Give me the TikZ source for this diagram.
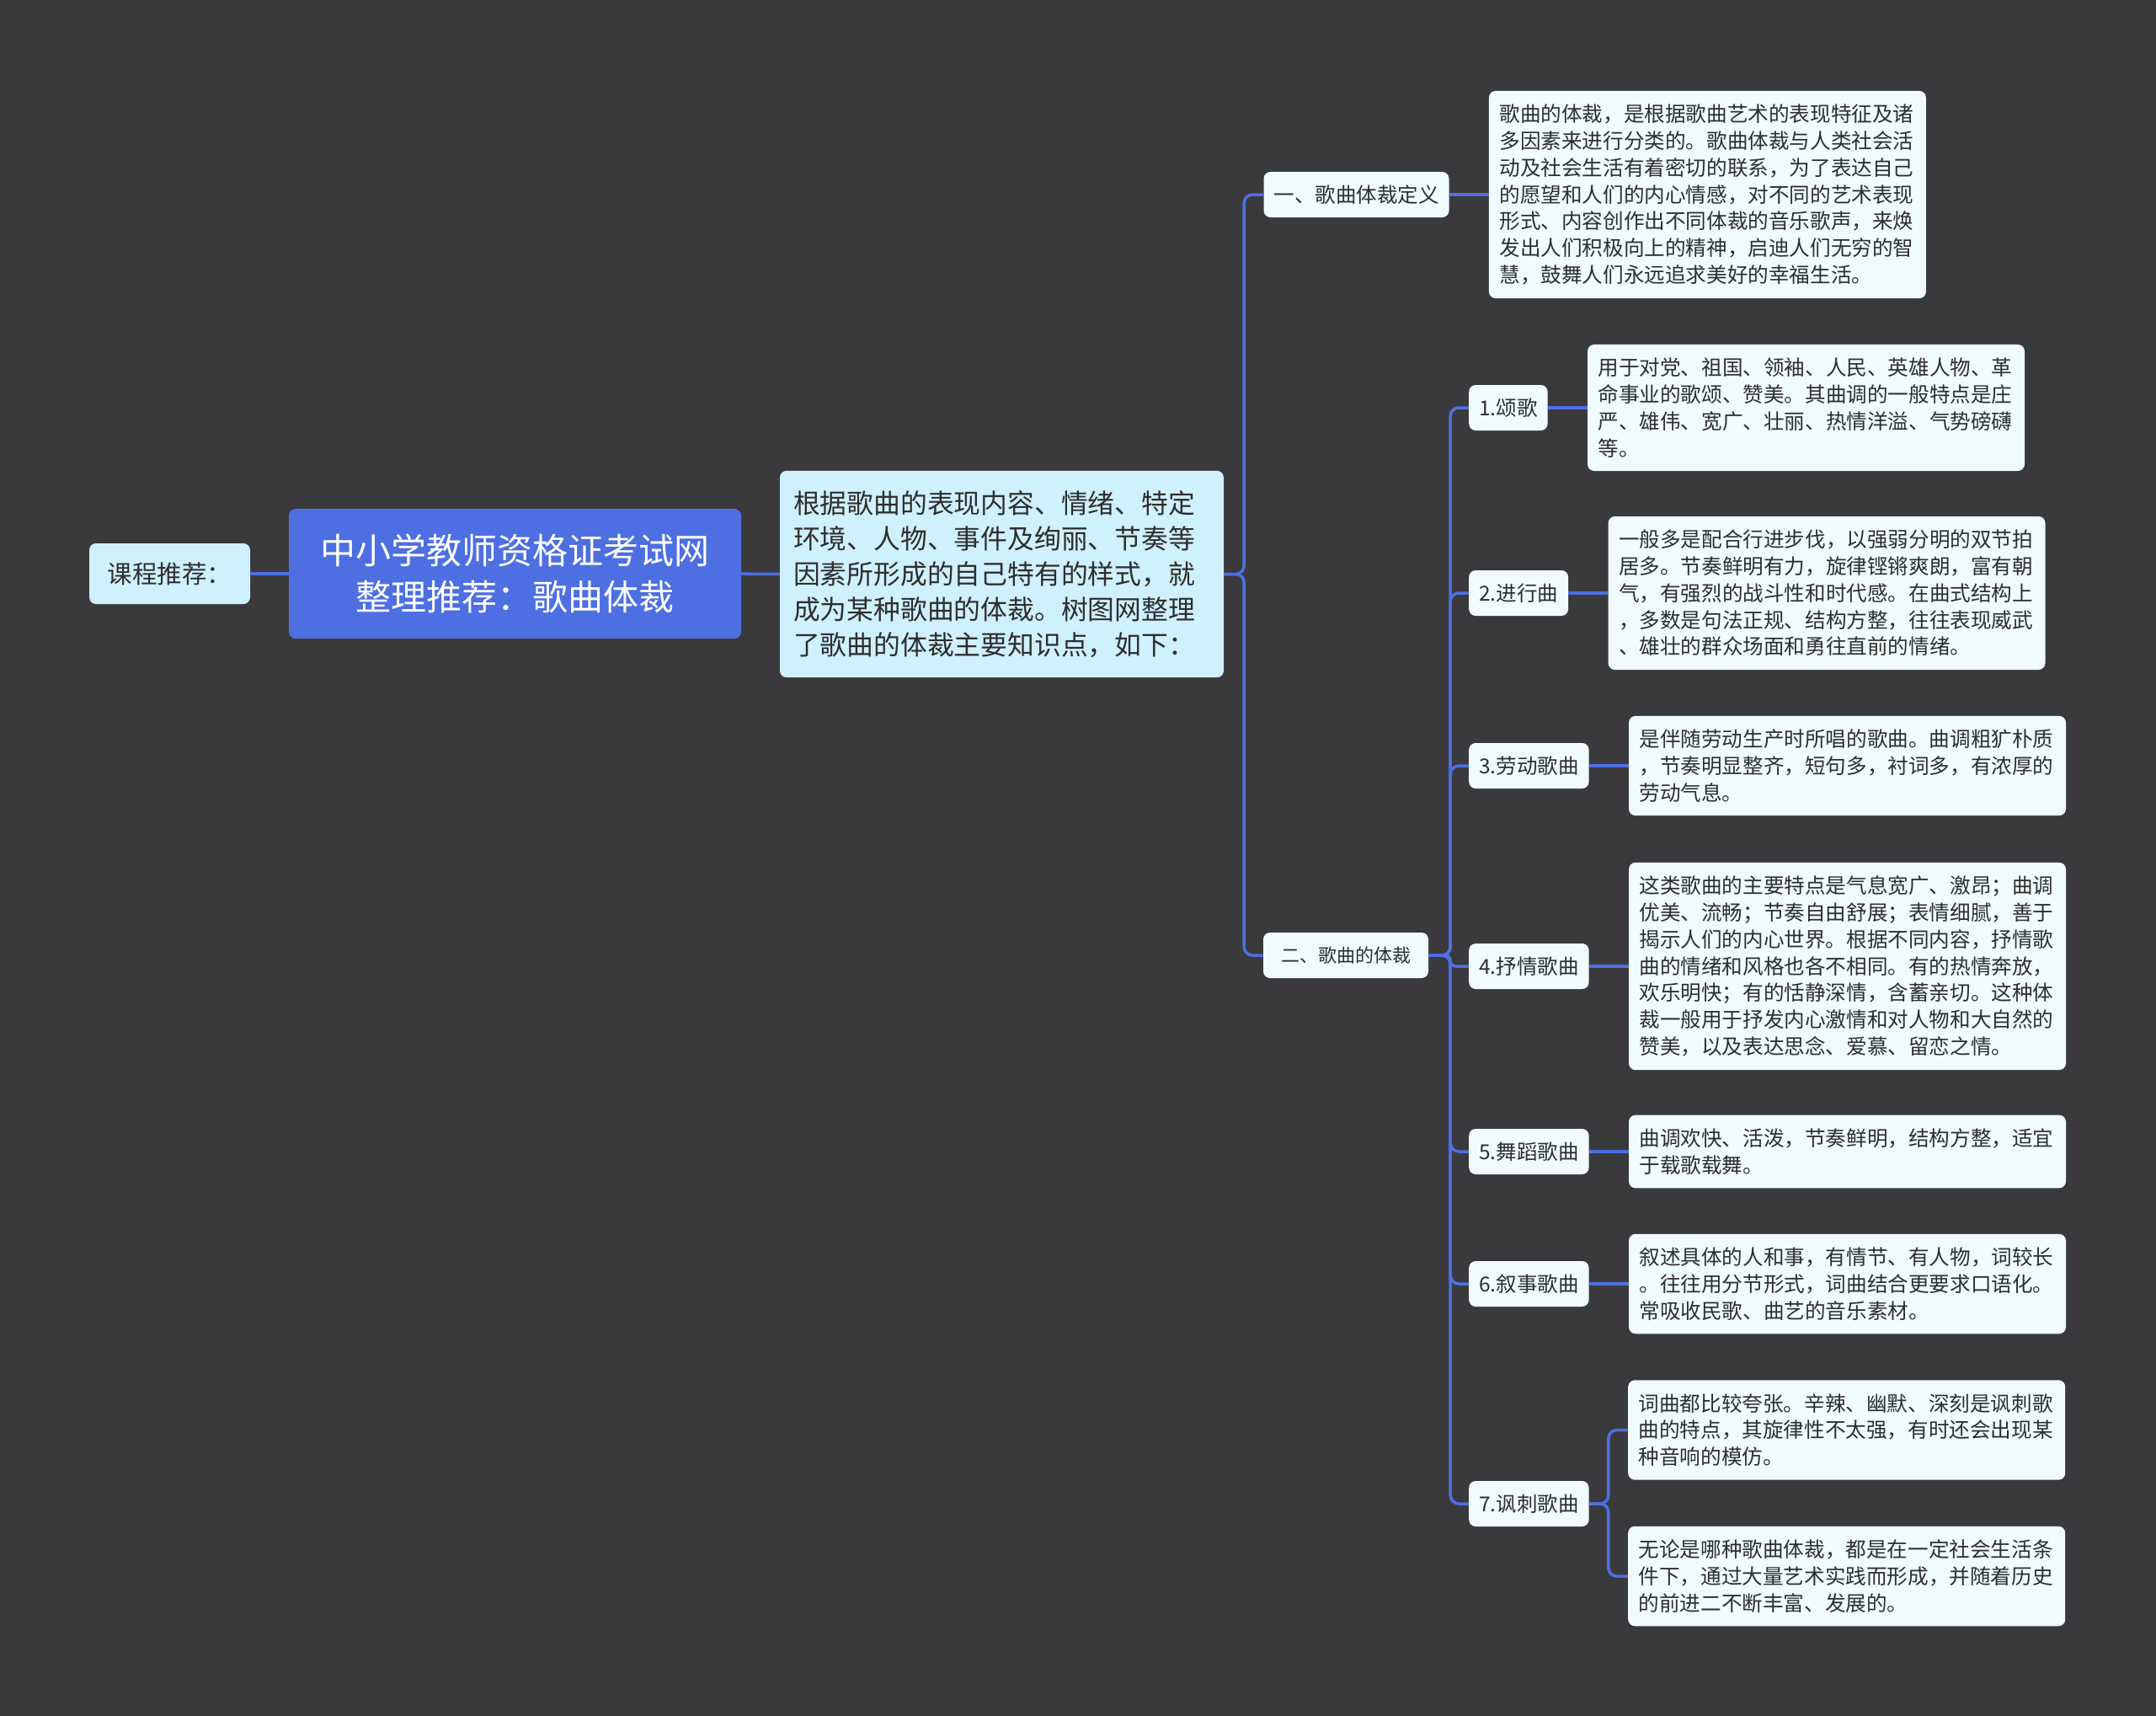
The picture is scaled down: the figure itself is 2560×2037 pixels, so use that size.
\documentclass[tikz,border=0pt]{standalone}
\usepackage{fontspec}
\setmainfont{Noto Sans CJK SC}
\usetikzlibrary{positioning}
\definecolor{Beijing}{HTML}{3A393C}
\definecolor{Lanse}{HTML}{4D6FE2}
\definecolor{Qianlan}{HTML}{CFF0FD}
\definecolor{Baise}{HTML}{F0FBFE}
\definecolor{Wenzi}{HTML}{2E2E2E}
\tikzset{
  kuang/.style   = {rectangle, rounded corners=8pt, text=Wenzi, align=left},
  genkuang/.style= {kuang, fill=Lanse, text=white, align=center,
                    font=\fontsize{42}{55.5}\selectfont,
                    minimum width=537pt, minimum height=154pt},
  qianlan/.style = {kuang, fill=Qianlan},
  xiang/.style   = {kuang, fill=Baise, font=\fontsize{24.5}{31.8}\selectfont,
                    inner xsep=12pt, minimum height=54pt},
  ye/.style      = {kuang, fill=Baise, font=\fontsize{24.6}{31.8}\selectfont,
                    text width=494pt, inner xsep=12.5pt, inner ysep=16pt},
  lian/.style    = {draw=Lanse, line width=3.5pt, rounded corners=10pt},
}

\begin{document}
\begin{tikzpicture}[x=1pt, y=-1pt]
  \fill[Beijing] (0,0) rectangle (2560,2037);
  % --- lijevo: tuijian, gen, shuoming ---
  \node[qianlan, font=\fontsize{29.5}{36}\selectfont, minimum width=191pt,
        minimum height=72pt, align=center] at (201.5,681) (tuijian) {课程推荐：};
  \node[genkuang] at (611.5,681) (gen) {中小学教师资格证考试网\\整理推荐：歌曲体裁};
  \node[qianlan, text width=495pt, inner xsep=16pt, inner ysep=23.5pt,
        font=\fontsize{31.8}{42}\selectfont] at (1189.5,681.5) (shuoming)
        {根据歌曲的表现内容、情绪、特定\\
         环境、人物、事件及绚丽、节奏等\\
         因素所形成的自己特有的样式，就\\
         成为某种歌曲的体裁。树图网整理\\
         了歌曲的体裁主要知识点，如下：};

  \draw[lian] (tuijian) -- (gen);
  \draw[lian] (gen) -- (shuoming);

  % --- yi: dingyi ---
  \node[xiang] at (1610.5,231) (dingyi) {一、歌曲体裁定义};
  \node[ye, right=47pt of dingyi] (dingyiye)
        {歌曲的体裁，是根据歌曲艺术的表现特征及诸\\
         多因素来进行分类的。歌曲体裁与人类社会活\\
         动及社会生活有着密切的联系，为了表达自己\\
         的愿望和人们的内心情感，对不同的艺术表现\\
         形式、内容创作出不同体裁的音乐歌声，来焕\\
         发出人们积极向上的精神，启迪人们无穷的智\\
         慧，鼓舞人们永远追求美好的幸福生活。};

  % --- er: ticai ---
  \node[xiang, font=\fontsize{22}{28}\selectfont, minimum width=196pt]
        at (1598,1134) (tici) {二、歌曲的体裁};

  \draw[lian] (shuoming.east) -- ++(24,0) |- (dingyi.west);
  \draw[lian] (shuoming.east) -- ++(24,0) |- (tici.west);
  \draw[lian] (dingyi) -- (dingyiye);

  \node[xiang, anchor=west] at (1744,484)  (s1) {1.颂歌};
  \node[xiang, anchor=west] at (1744,704)  (s2) {2.进行曲};
  \node[xiang, anchor=west] at (1744,909)  (s3) {3.劳动歌曲};
  \node[xiang, anchor=west] at (1744,1147) (s4) {4.抒情歌曲};
  \node[xiang, anchor=west] at (1744,1367) (s5) {5.舞蹈歌曲};
  \node[xiang, anchor=west] at (1744,1524) (s6) {6.叙事歌曲};
  \node[xiang, anchor=west] at (1744,1785) (s7) {7.讽刺歌曲};

  \node[ye, right=47pt of s1] (t1)
        {用于对党、祖国、领袖、人民、英雄人物、革\\
         命事业的歌颂、赞美。其曲调的一般特点是庄\\
         严、雄伟、宽广、壮丽、热情洋溢、气势磅礴\\
         等。};
  \node[ye, right=47pt of s2] (t2)
        {一般多是配合行进步伐，以强弱分明的双节拍\\
         居多。节奏鲜明有力，旋律铿锵爽朗，富有朝\\
         气，有强烈的战斗性和时代感。在曲式结构上\\
         ，多数是句法正规、结构方整，往往表现威武\\
         、雄壮的群众场面和勇往直前的情绪。};
  \node[ye, right=47pt of s3] (t3)
        {是伴随劳动生产时所唱的歌曲。曲调粗犷朴质\\
         ，节奏明显整齐，短句多，衬词多，有浓厚的\\
         劳动气息。};
  \node[ye, right=47pt of s4] (t4)
        {这类歌曲的主要特点是气息宽广、激昂；曲调\\
         优美、流畅；节奏自由舒展；表情细腻，善于\\
         揭示人们的内心世界。根据不同内容，抒情歌\\
         曲的情绪和风格也各不相同。有的热情奔放，\\
         欢乐明快；有的恬静深情，含蓄亲切。这种体\\
         裁一般用于抒发内心激情和对人物和大自然的\\
         赞美，以及表达思念、爱慕、留恋之情。};
  \node[ye, right=47pt of s5] (t5)
        {曲调欢快、活泼，节奏鲜明，结构方整，适宜\\
         于载歌载舞。};
  \node[ye, right=47pt of s6] (t6)
        {叙述具体的人和事，有情节、有人物，词较长\\
         。往往用分节形式，词曲结合更要求口语化。\\
         常吸收民歌、曲艺的音乐素材。};
  \node[ye, anchor=west] at (1933,1697.5) (t7a)
        {词曲都比较夸张。辛辣、幽默、深刻是讽刺歌\\
         曲的特点，其旋律性不太强，有时还会出现某\\
         种音响的模仿。};
  \node[ye, anchor=west] at (1933,1871) (t7b)
        {无论是哪种歌曲体裁，都是在一定社会生活条\\
         件下，通过大量艺术实践而形成，并随着历史\\
         的前进二不断丰富、发展的。};

  \draw[lian] (tici.east) -- ++(26,0) |- (s1.west);
  \draw[lian] (tici.east) -- ++(26,0) |- (s2.west);
  \draw[lian] (tici.east) -- ++(26,0) |- (s3.west);
  \draw[lian, rounded corners=6pt] (tici.east) -- ++(26,0) |- (s4.west);
  \draw[lian] (tici.east) -- ++(26,0) |- (s5.west);
  \draw[lian] (tici.east) -- ++(26,0) |- (s6.west);
  \draw[lian] (tici.east) -- ++(26,0) |- (s7.west);
  \draw[lian] (s1) -- (t1);
  \draw[lian] (s2) -- (t2);
  \draw[lian] (s3) -- (t3);
  \draw[lian] (s4) -- (t4);
  \draw[lian] (s5) -- (t5);
  \draw[lian] (s6) -- (t6);
  \draw[lian] (s7.east) -- ++(23,0) |- (t7a.west);
  \draw[lian] (s7.east) -- ++(23,0) |- (t7b.west);
\end{tikzpicture}
\end{document}
